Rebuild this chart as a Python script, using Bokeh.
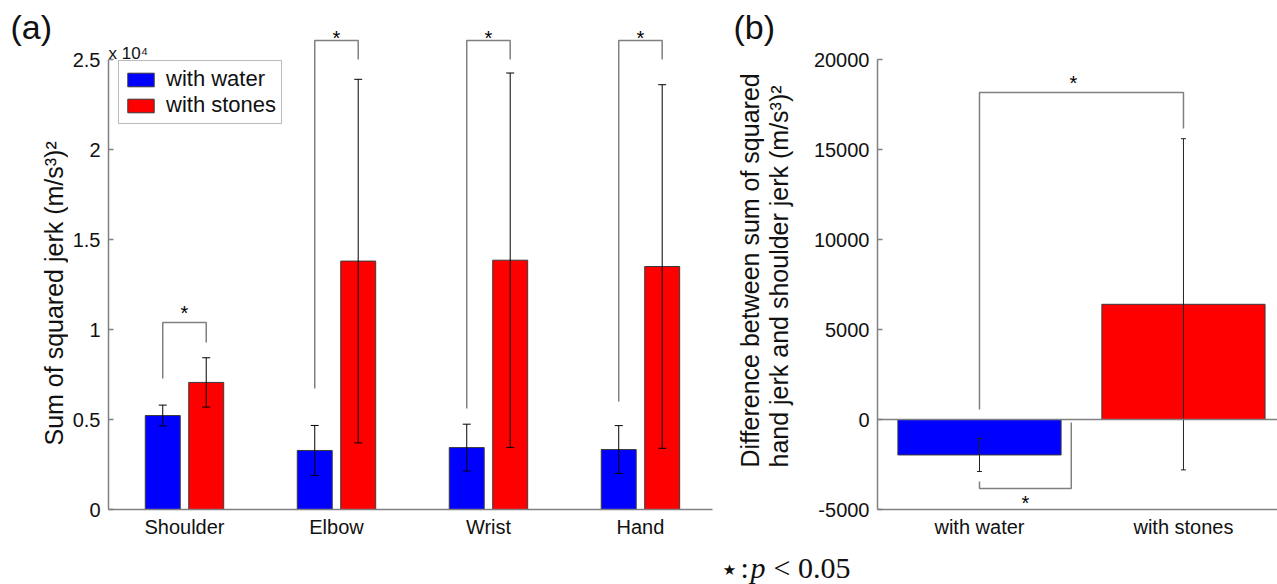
import math
from bokeh.plotting import figure
from bokeh.models import Label, FixedTicker, Span
from bokeh.layouts import row, column
from bokeh.embed import file_html
from bokeh.resources import INLINE
from bokeh.core.properties import value

# ---------------- data : panel (a) ----------------
joints = ["Shoulder", "Elbow", "Wrist", "Hand"]
water_mean = [5220, 3280, 3440, 3330]
water_err = [580, 1390, 1300, 1330]
stones_mean = [7060, 13800, 13850, 13500]
stones_err = [1370, 10100, 10400, 10100]
a_ticks = [0, 5000, 10000, 15000, 20000, 25000]
a_tick_labels = ["0", "0.5", "1", "1.5", "2", "2.5"]
# significance brackets (a): end of water leg, end of stones leg, bracket level, star level
a_brk_water = [7280, 6720, 5610, 6000]
a_brk_stones = [9280, 25000, 25000, 25000]
a_brk_top = [10390, 26060, 26060, 26060]
a_star = [10920, 26200, 26200, 26200]

# ---------------- data : panel (b) ----------------
conditions = ["with water", "with stones"]
diff_mean = [-1970, 6400]
diff_err = [920, 9200]
b_ticks = [-5000, 0, 5000, 10000, 15000, 20000]
b_tick_labels = ["-5000", "0", "5000", "10000", "15000", "20000"]
# between-condition bracket
b_brk_water = 560
b_brk_stones = 16170
b_brk_top = 18170
b_star = 18700
# lower bracket (water vs 0)
b_low_leg_left = -3440
b_low_leg_right = -170
b_low_level = -3830
b_low_star = -4630

FONT = "Liberation Sans"
SERIF = "Liberation Serif"
BLUE = "#0000ff"
RED = "#ff0000"
GRAY = "#808080"
EDGE = "#3a3a3a"
INK = "#111111"

ROW_H = 548      # height of the chart row
BOTTOM = 39      # space under the plot frames (x tick labels)


def style(p, ylo, yhi):
    p.outline_line_color = None
    p.grid.visible = False
    p.background_fill_color = "white"
    p.border_fill_color = "white"
    for ax in p.axis:
        ax.axis_line_color = GRAY
        ax.axis_line_width = 1.5
        ax.major_tick_line_color = GRAY
        ax.major_tick_line_width = 1.5
        ax.minor_tick_line_color = None
        ax.major_label_text_font = FONT
        ax.major_label_text_font_size = "20px"
        ax.major_label_text_color = INK
    p.xaxis.major_tick_in = 0
    p.xaxis.major_tick_out = 0
    p.xaxis.major_label_standoff = 6
    p.yaxis.major_tick_in = 5
    p.yaxis.major_tick_out = 0
    p.yaxis.major_label_standoff = 8
    p.yaxis.bounds = (ylo, yhi)


def strip(w, h, bottom):
    s = figure(width=w, height=h, x_range=(0, w), y_range=(0, h - bottom), output_backend="svg",
               toolbar_location=None, x_axis_type=None, y_axis_type=None, title=None,
               min_border_left=0, min_border_right=0, min_border_top=0,
               min_border_bottom=bottom)
    s.outline_line_color = None
    s.grid.visible = False
    s.border_fill_color = "white"
    return s


def txt(p, x, y, s, size, angle=0.0, align="left", baseline="middle",
        font=FONT, style="normal"):
    p.text(x=[x], y=[y], text=[s], angle=angle, text_font=value(font),
           text_font_size=size, text_font_style=style, text_color=INK,
           text_align=align, text_baseline=baseline)


# ================= label strip for (a) =================
sa = strip(68, ROW_H, BOTTOM)
txt(sa, 10, 483, "(a)", "34px")
txt(sa, 53, 64, "Sum of squared jerk (m/s\u00b3)\u00b2", "25px", angle=math.pi / 2)

# ================= panel (a) =================
p1 = figure(width=657, height=ROW_H, x_range=(0.5, 4.474), y_range=(0, 28278),
            output_backend="svg", toolbar_location=None, title=None,
            min_border_left=40, min_border_right=13, min_border_top=0, min_border_bottom=BOTTOM)
style(p1, a_ticks[0], a_ticks[-1])

gx = list(range(1, len(joints) + 1))
off = 0.143
bw = 0.23
wx = [g - off for g in gx]
sx = [g + off for g in gx]

p1.vbar(x=wx, top=water_mean, bottom=0, width=bw, fill_color=BLUE, line_color=EDGE,
        line_width=1, legend_label="with water")
p1.vbar(x=sx, top=stones_mean, bottom=0, width=bw, fill_color=RED, line_color=EDGE,
        line_width=1, legend_label="with stones")

for xs_, m_, e_ in ((wx, water_mean, water_err), (sx, stones_mean, stones_err)):
    lo = [m - e for m, e in zip(m_, e_)]
    hi = [m + e for m, e in zip(m_, e_)]
    p1.segment(x0=xs_, y0=lo, x1=xs_, y1=hi, line_color="black", line_width=1)
    p1.scatter(x=xs_ + xs_, y=lo + hi, marker="dash", size=8, line_color="black", line_width=1)

brk_xs = [[a, a, b, b] for a, b in zip(wx, sx)]
brk_ys = [[w, t, t, s] for w, t, s in zip(a_brk_water, a_brk_top, a_brk_stones)]
p1.multi_line(xs=brk_xs, ys=brk_ys, line_color=GRAY, line_width=1.5)
p1.text(x=[(a + b) / 2 for a, b in zip(wx, sx)], y=a_star, text=["*"] * len(gx),
        text_font=value(FONT), text_font_size="20px", text_align="center",
        text_baseline="middle", text_color="black")

p1.xaxis.ticker = FixedTicker(ticks=gx)
p1.xaxis.major_label_overrides = {g: j for g, j in zip(gx, joints)}
p1.yaxis.ticker = FixedTicker(ticks=a_ticks)
p1.yaxis.major_label_overrides = {t: l for t, l in zip(a_ticks, a_tick_labels)}

leg = p1.legend[0]
leg.location = (10, 385)
leg.label_text_font = FONT
leg.label_text_font_size = "22px"
leg.label_text_color = INK
leg.glyph_width = 33
leg.glyph_height = 17
leg.label_standoff = 9
leg.padding = 5
leg.spacing = 0
leg.margin = 0
leg.border_line_color = "#777777"
leg.border_line_width = 1.5
leg.background_fill_alpha = 1.0

p1.add_layout(Label(x=0, y=456, x_units="screen", y_units="screen", text="x 10\u2074",
                    text_font=FONT, text_font_size="17px", text_color=INK,
                    text_baseline="alphabetic"))

# ================= label strip for (b) =================
sb = strip(80, ROW_H, BOTTOM)
txt(sb, 8, 483, "(b)", "34px")
txt(sb, 24, 42, "Difference between sum of squared", "25px", angle=math.pi / 2)
txt(sb, 53, 42, "hand jerk and shoulder jerk (m/s\u00b3)\u00b2", "25px", angle=math.pi / 2)

# ================= panel (b) =================
p2 = figure(width=472, height=ROW_H, x_range=(0.5, 2.461), y_range=(-5000, 23278),
            output_backend="svg", toolbar_location=None, title=None,
            min_border_left=72, min_border_right=0, min_border_top=0, min_border_bottom=BOTTOM)
style(p2, b_ticks[0], b_ticks[-1])

cx = list(range(1, len(conditions) + 1))
bw2 = 0.8
p2.add_layout(Span(location=0, dimension="width", line_color=GRAY, line_width=1.5))
p2.vbar(x=cx, top=diff_mean, bottom=0, width=bw2, fill_color=[BLUE, RED], line_color=EDGE,
        line_width=1)
lo2 = [m - e for m, e in zip(diff_mean, diff_err)]
hi2 = [m + e for m, e in zip(diff_mean, diff_err)]
p2.segment(x0=cx, y0=lo2, x1=cx, y1=hi2, line_color="#222222", line_width=1)
p2.scatter(x=cx + cx, y=lo2 + hi2, marker="dash", size=5, line_color="#222222", line_width=1)

low_right = cx[0] + bw2 / 2 + 0.05
p2.multi_line(xs=[[cx[0], cx[0], cx[1], cx[1]], [cx[0], cx[0], low_right, low_right]],
              ys=[[b_brk_water, b_brk_top, b_brk_top, b_brk_stones],
                  [b_low_leg_left, b_low_level, b_low_level, b_low_leg_right]],
              line_color=GRAY, line_width=1.5)
p2.text(x=[(cx[0] + cx[1]) / 2 - 0.04, (cx[0] + low_right) / 2], y=[b_star, b_low_star],
        text=["*", "*"], text_font=value(FONT), text_font_size="20px", text_align="center",
        text_baseline="middle", text_color="black")

p2.xaxis.ticker = FixedTicker(ticks=cx)
p2.xaxis.major_label_overrides = {c: n for c, n in zip(cx, conditions)}
p2.yaxis.ticker = FixedTicker(ticks=b_ticks)
p2.yaxis.major_label_overrides = {t: l for t, l in zip(b_ticks, b_tick_labels)}

# ================= footnote =================
p3 = strip(1277, 36, 0)
txt(p3, 729, 15, "\u2605", "15px", align="center", font="DejaVu Sans")
txt(p3, 740, 17, ":", "30px", font=SERIF)
txt(p3, 750, 17, "p", "30px", font=SERIF, style="italic")
txt(p3, 773, 17, "< 0.05", "30px", font=SERIF)

layout = column(row(sa, p1, sb, p2, spacing=0), p3, spacing=0)
open("out.html", "w").write(file_html(layout, INLINE))
